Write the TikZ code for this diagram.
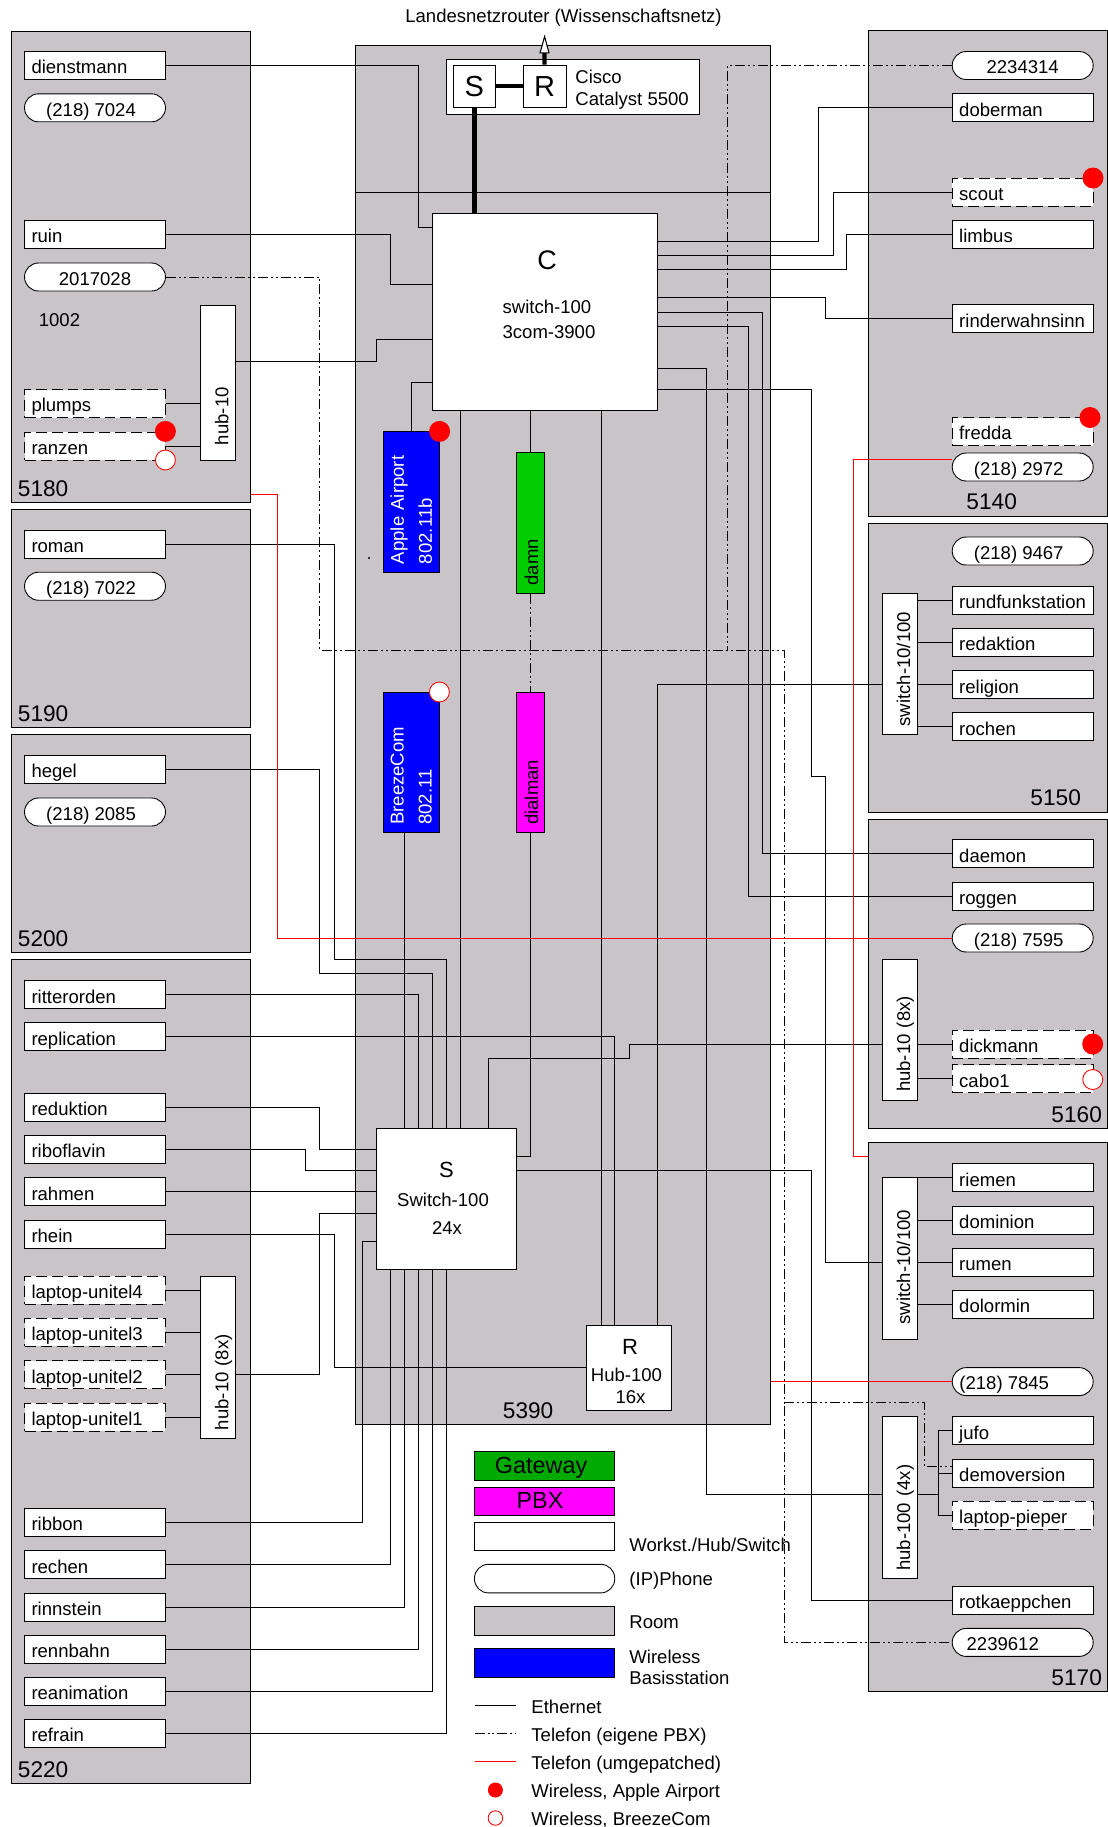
\documentclass[tikz,border=0pt]{standalone}
\usepackage{fontspec}
\setmainfont{Liberation Sans}
\usepackage{xcolor}
\usetikzlibrary{arrows.meta}
\definecolor{roomgray}{RGB}{200,196,200}
\definecolor{damngreen}{RGB}{0,204,0}
\definecolor{gatewaygreen}{RGB}{0,170,0}
\definecolor{pbxmagenta}{RGB}{255,0,255}
\definecolor{basisblue}{RGB}{0,0,255}

\begin{document}
\begin{tikzpicture}[
    x=0.02cm, y=-0.02cm,
    line width=0.5pt,
    room/.style={
      draw, fill=roomgray, anchor=north west, inner sep=0pt
    },
    roomlabel/.style={
      anchor=west, inner sep=0pt, font=\fontsize{12.9}{15}\selectfont
    },
    workst/.style={
      draw, fill=white, text width=2.54cm, inner xsep=0.14cm, inner ysep=0pt,
      minimum height=0.56cm, text height=11pt, text depth=1.5pt,
      align=left, font=\fontsize{10.55}{13}\selectfont
    },
    laptop/.style={
      workst, draw=black, dash pattern=on 0.22cm off 0.1cm
    },
    phone/.style={
      draw, fill=white, rounded corners=0.28cm, inner sep=0pt,
      minimum width=2.82cm, minimum height=0.56cm,
      text height=11pt, text depth=1.5pt,
      font=\fontsize{10.55}{13}\selectfont
    },
    hubbox/.style={
      draw, fill=white, rotate=90, text width=#1, inner xsep=0.16cm, inner ysep=0pt,
      minimum height=0.7cm, text height=12pt, text depth=0pt,
      align=left, font=\fontsize{10.55}{13}\selectfont
    },
    gwbox/.style={
      draw, rotate=90, text width=2.492cm, inner xsep=0.16cm, inner ysep=0pt,
      minimum height=0.56cm, text height=10pt, text depth=1.5pt,
      align=left, font=\fontsize{10.55}{13}\selectfont
    },
    wbase/.style={
      draw, fill=basisblue, text=white, rotate=90, text width=2.492cm,
      inner xsep=0.16cm, inner ysep=0pt, minimum height=1.134cm,
      align=left, font=\fontsize{10.55}{16}\selectfont
    },
    corebox/.style={
      draw, fill=white, inner sep=0pt
    },
    plain/.style={
      inner sep=0pt, font=\fontsize{10.55}{12.3}\selectfont
    },
    bigletter/.style={
      inner sep=0pt, font=\fontsize{12.5}{15}\selectfont
    },
    airport/.style={
      circle, fill=red, inner sep=0pt, minimum size=0.42cm
    },
    breeze/.style={
      circle, draw=red, fill=white, inner sep=0pt, minimum size=0.4cm
    },
    legbox/.style={
      draw, inner sep=0pt, minimum width=2.806cm, minimum height=0.572cm,
      font=\fontsize{13.3}{15}\selectfont
    },
    legtext/.style={
      anchor=west, inner sep=0pt, align=left, font=\fontsize{10.55}{12.3}\selectfont
    },
    eth/.style={line width=0.5pt},
    pbx/.style={line width=0.5pt, dash pattern=on 0.2cm off 0.06cm on 0.04cm off 0.06cm on 0.04cm off 0.06cm},
    patched/.style={line width=0.5pt, red},
    backbone/.style={line width=2.4pt}
  ]
    \useasboundingbox (0,0) rectangle (1108,1827);

    % Rooms
    \node[room, minimum width=4.78cm, minimum height=9.43cm] (r5180) at (10.7,30.5) {};
    \node[room, minimum width=4.78cm, minimum height=4.354cm] (r5190) at (10.7,509.3) {};
    \node[room, minimum width=4.78cm, minimum height=4.36cm] (r5200) at (10.7,734) {};
    \node[room, minimum width=4.78cm, minimum height=16.468cm] (r5220) at (10.7,959.3) {};
    \node[room, minimum width=8.316cm, minimum height=27.586cm] (r5390) at (354.6,44.7) {};
    \node[room, minimum width=4.784cm, minimum height=9.72cm] (r5140) at (867.8,30.4) {};
    \node[room, minimum width=4.784cm, minimum height=5.776cm] (r5150) at (867.8,523) {};
    \node[room, minimum width=4.784cm, minimum height=6.19cm] (r5160) at (867.8,818.5) {};
    \node[room, minimum width=4.784cm, minimum height=10.98cm] (r5170) at (867.8,1142) {};

    % Room numbers
    \node[roomlabel] (l5180) at (17.5,488.2) {5180};
    \node[roomlabel] (l5190) at (17.5,713.2) {5190};
    \node[roomlabel] (l5200) at (17.5,938.2) {5200};
    \node[roomlabel] (l5220) at (17.5,1769.2) {5220};
    \node[roomlabel] (l5390) at (502.5,1410.2) {5390};
    \node[roomlabel] (l5140) at (966,501.8) {5140};
    \node[roomlabel] (l5150) at (1030,798) {5150};
    \node[roomlabel] (l5160) at (1051,1114.2) {5160};
    \node[roomlabel] (l5170) at (1051,1677.2) {5170};

    % Router on top
    \node[plain] (landes) at (563.5,17.6) {Landesnetzrouter (Wissenschaftsnetz)};
    \node[corebox, minimum width=5.06cm, minimum height=1.114cm] (cisco) at (573,86.9) {};
    \node[corebox, minimum width=0.854cm, minimum height=0.85cm, font=\fontsize{16.5}{18}\selectfont] (ciscoS) at (474.4,86.3) {S};
    \node[corebox, minimum width=0.86cm, minimum height=0.85cm, font=\fontsize{16.5}{18}\selectfont] (ciscoR) at (544.5,86.3) {R};
    \node[plain, anchor=west, align=left] (ciscoText) at (575,89.5) {Cisco\\Catalyst 5500};

    % Core
    \node[corebox, minimum width=4.49cm, minimum height=3.938cm] (switchC) at (544.75,312) {};
    \node[inner sep=0pt, font=\fontsize{15.3}{18}\selectfont] (letterC) at (547,260) {C};
    \node[plain] (typeC) at (547,306.5) {switch-100};
    \node[plain] (modelC) at (549,332) {3com-3900};
    \node[corebox, minimum width=2.808cm, minimum height=2.814cm] (switchS) at (446.2,1198.6) {};
    \node[bigletter] (letterS) at (446.4,1170) {S};
    \node[plain] (typeS) at (443,1200) {Switch-100};
    \node[plain] (modelS) at (447,1228) {24x};
    \node[corebox, minimum width=1.694cm, minimum height=1.694cm] (hubR) at (629,1367.6) {};
    \node[bigletter] (letterR) at (630,1346.7) {R};
    \node[plain] (typeR) at (626.5,1375) {Hub-100};
    \node[plain] (modelR) at (630.5,1397.4) {16x};

    % Wireless base stations, gateway, PBX
    \node[wbase] (appleAirport) at (411.3,501.7) {Apple Airport\\802.11b};
    \node[wbase] (breezeCom) at (411.3,762.5) {BreezeCom\\802.11};
    \node[gwbox, fill=damngreen, text width=2.496cm] (damn) at (530.6,523) {damn};
    \node[gwbox, fill=pbxmagenta] (dialman) at (530.6,762.5) {dialman};
    \node[airport] (dotApple) at (439.6,431.4) {};
    \node[breeze] (dotBreeze) at (439.4,692) {};
    \node[circle, fill=black, inner sep=0pt, minimum size=1.2pt] (speck) at (369,558) {};

    % Room 5180
    \node[workst] (dienstmann) at (95,65.4) {dienstmann};
    \node[phone] (phone7024) at (95,107.8) {(218) 7024\kern4.5pt};
    \node[workst] (ruin) at (95,234.5) {ruin};
    \node[phone] (phone2017) at (95,277) {2017028};
    \node[plain] (num1002) at (59.5,320.5) {1002};
    \node[laptop] (plumps) at (95,403.5) {plumps};
    \node[laptop] (ranzen) at (95,446) {ranzen};
    \node[hubbox=2.78cm] (hub5180) at (217.9,382.5) {\hspace*{0.14cm}hub-10};
    \node[airport] (dotRanzen) at (165.4,431.4) {};
    \node[breeze] (breezeRanzen) at (165.4,460) {};

    % Room 5190
    \node[workst] (roman) at (95,544) {roman};
    \node[phone] (phone7022) at (95,586.2) {(218) 7022\kern4.5pt};

    % Room 5200
    \node[workst] (hegel) at (95,769.3) {hegel};
    \node[phone] (phone2085) at (95,812) {(218) 2085\kern4.5pt};

    % Room 5220
    \node[workst] (ritterorden) at (95,994.7) {ritterorden};
    \node[workst] (replication) at (95,1036.7) {replication};
    \node[workst] (reduktion) at (95,1107.3) {reduktion};
    \node[workst] (riboflavin) at (95,1149.3) {riboflavin};
    \node[workst] (rahmen) at (95,1191.7) {rahmen};
    \node[workst] (rhein) at (95,1234) {rhein};
    \node[laptop] (unitelD) at (95,1290.3) {laptop-unitel4};
    \node[laptop] (unitelC) at (95,1332.3) {laptop-unitel3};
    \node[laptop] (unitelB) at (95,1374.7) {laptop-unitel2};
    \node[laptop] (unitelA) at (95,1417) {laptop-unitel1};
    \node[hubbox=2.914cm] (hub5220) at (217.9,1357.2) {hub-10 (8x)};
    \node[workst] (ribbon) at (95,1522.3) {ribbon};
    \node[workst] (rechen) at (95,1564.7) {rechen};
    \node[workst] (rinnstein) at (95,1607) {rinnstein};
    \node[workst] (rennbahn) at (95,1649) {rennbahn};
    \node[workst] (reanimation) at (95,1691.3) {reanimation};
    \node[workst] (refrain) at (95,1733) {refrain};

    % Room 5140
    \node[phone] (phone2234) at (1022.7,65.5) {2234314};
    \node[workst] (doberman) at (1022.7,107.8) {doberman};
    \node[laptop] (scout) at (1022.7,192.2) {scout};
    \node[workst] (limbus) at (1022.7,234.5) {limbus};
    \node[workst] (rinderwahnsinn) at (1022.7,318.7) {rinderwahnsinn};
    \node[laptop] (fredda) at (1022.7,431.5) {fredda};
    \node[phone] (phone2972) at (1022.7,467) {(218) 2972\kern4.5pt};
    \node[airport] (dotScout) at (1093,178) {};
    \node[airport] (dotFredda) at (1090,417.5) {};

    % Room 5150
    \node[phone] (phone9467) at (1022.7,551) {(218) 9467\kern4.5pt};
    \node[workst] (rundfunkstation) at (1022.7,600.3) {rundfunkstation};
    \node[workst] (redaktion) at (1022.7,642.6) {redaktion};
    \node[workst] (religion) at (1022.7,684.9) {religion};
    \node[workst] (rochen) at (1022.7,726.8) {rochen};
    \node[hubbox=2.496cm] (switch5150) at (899.6,663.9) {switch-10/100};

    % Room 5160
    \node[workst] (daemon) at (1022.7,853.7) {daemon};
    \node[workst] (roggen) at (1022.7,896) {roggen};
    \node[phone] (phone7595) at (1022.7,938) {(218) 7595\kern4.5pt};
    \node[hubbox=2.494cm] (hub5160) at (899.6,1029.6) {hub-10 (8x)};
    \node[laptop] (dickmann) at (1022.7,1044) {dickmann};
    \node[laptop] (cabo) at (1022.7,1078.7) {cabo1};
    \node[airport] (dotDickmann) at (1092.7,1044) {};
    \node[breeze] (dotCabo) at (1092.7,1079.5) {};

    % Room 5170
    \node[workst] (riemen) at (1022.7,1177.7) {riemen};
    \node[workst] (dominion) at (1022.7,1220) {dominion};
    \node[workst] (rumen) at (1022.7,1262) {rumen};
    \node[workst] (dolormin) at (1022.7,1304) {dolormin};
    \node[hubbox=2.92cm] (switch5170) at (899.6,1258.4) {\hspace*{0.14cm}switch-10/100};
    \node[phone] (phone7845) at (1022.7,1381.6) {(218) 7845\kern21pt};
    \node[hubbox=2.92cm] (hub5170) at (899.6,1497.8) {hub-100 (4x)};
    \node[workst] (jufo) at (1022.7,1430.8) {jufo};
    \node[workst] (demoversion) at (1022.7,1473) {demoversion};
    \node[laptop] (laptopPieper) at (1022.7,1515) {laptop-pieper};
    \node[workst] (rotkaeppchen) at (1022.7,1600) {rotkaeppchen};
    \node[phone] (phone2239) at (1022.7,1642.4) {2239612\kern22.7pt};

    % Uplink and backbone
    \coordinate (uplink) at (544.6,34.4);
    \draw[backbone, -{Triangle[open, fill=white, length=0.38cm, width=0.2cm, line width=0.6pt]}] (ciscoR.north) -- (uplink);
    \draw[backbone] (ciscoS.east) -- (ciscoR.west);
    \draw[backbone] (474.6,0 |- ciscoS.south) -- (474.6,0 |- switchC.north);
    \draw[eth] (r5390.west |- 0,192) -- (r5390.east |- 0,192);

    % Ethernet: left rooms to C and S
    \draw[eth] (dienstmann.east) -| (418,227.4) -- (switchC.west |- 0,227.4);
    \draw[eth] (ruin.east) -| (390,284) -- (switchC.west |- 0,284);
    \draw[eth] (hub5180.south |- 0,361) -| (376,339.7) -- (switchC.west |- 0,339.7);
    \draw[eth] (plumps.east) -- (plumps.east -| hub5180.north);
    \draw[eth] (ranzen.east) -- (ranzen.east -| hub5180.north);
    \draw[eth] (roman.east) -| (334,959.3) -| (446.4,0 |- switchS.north);
    \draw[eth] (hegel.east) -| (319.6,973.6) -| (432.5,0 |- switchS.north);
    \draw[eth] (ritterorden.east) -| (418,0 |- switchS.north);
    \draw[eth] (replication.east) -| (614.8,0 |- hubR.north);
    \draw[eth] (reduktion.east) -| (319.6,1149.3) -- (switchS.west |- 0,1149.3);
    \draw[eth] (riboflavin.east) -| (305.7,1170.3) -- (switchS.west |- 0,1170.3);
    \draw[eth] (rahmen.east) -- (switchS.west |- rahmen);
    \draw[eth] (hub5220.south |- unitelB) -| (319.6,1213) -- (switchS.west |- 0,1213);
    \draw[eth] (rhein.east) -| (334,1367.3) -- (hubR.west |- 0,1367.3);
    \draw[eth] (unitelD.east) -- (unitelD.east -| hub5220.north);
    \draw[eth] (unitelC.east) -- (unitelC.east -| hub5220.north);
    \draw[eth] (unitelB.east) -- (unitelB.east -| hub5220.north);
    \draw[eth] (unitelA.east) -- (unitelA.east -| hub5220.north);

    % Ethernet: S to the lower machines
    \draw[eth] (ribbon.east) -| (362,1241) -- (switchS.west |- 0,1241);
    \draw[eth] (rechen.east) -| (390,0 |- switchS.south);
    \draw[eth] (rinnstein.east) -| (404.3,0 |- switchS.south);
    \draw[eth] (rennbahn.east) -| (418,0 |- switchS.south);
    \draw[eth] (reanimation.east) -| (432.5,0 |- switchS.south);
    \draw[eth] (refrain.east) -| (446.4,0 |- switchS.south);

    % Ethernet: C and S to base stations, gateway, PBX, R
    \draw[eth] (appleAirport.east) |- (switchC.west |- 0,382.4);
    \draw[eth] (damn.east |- switchC.south) -- (damn.east);
    \draw[eth] (460.4,0 |- switchC.south) -- (460.4,0 |- switchS.north);
    \draw[eth] (601,0 |- switchC.south) -- (601,0 |- hubR.north);
    \draw[eth] (404.3,0 |- breezeCom.west) -- (404.3,0 |- switchS.north);
    \draw[eth] (dialman.west) |- (switchS.east |- 0,1156);
    \draw[eth] (657,0 |- hubR.north) |- (switch5150.north |- religion);

    % Ethernet: C and S to right rooms
    \draw[eth] (switchC.east |- 0,241.2) -| (818.7,107.8) -- (doberman.west);
    \draw[eth] (switchC.east |- 0,255.4) -| (833,192.2) -- (scout.west);
    \draw[eth] (switchC.east |- 0,269.7) -| (846.8,234.5) -- (limbus.west);
    \draw[eth] (switchC.east |- 0,297.7) -| (825.8,318.7) -- (rinderwahnsinn.west);
    \draw[eth] (switchC.east |- 0,312) -| (762.7,853.7) -- (daemon.west);
    \draw[eth] (switchC.east |- 0,326.2) -| (748.6,896) -- (roggen.west);
    \draw[eth] (switchC.east |- 0,368) -| (706.2,1494.4) -- (hub5170.north |- 0,1494.4);
    \draw[eth] (switchC.east |- 0,389.5) -| (811.7,776) -| (825.9,1262) -- (switch5170.north |- 0,1262);
    \draw[eth] (switchS.east |- 0,1170.5) -| (811.7,1600) -- (rotkaeppchen.west);
    \draw[eth] (hub5160.north |- dickmann) -| (629,1058) -| (488.2,0 |- switchS.north);

    % Ethernet: inside right rooms
    \draw[eth] (rundfunkstation.west) -- (rundfunkstation.west -| switch5150.south);
    \draw[eth] (redaktion.west) -- (redaktion.west -| switch5150.south);
    \draw[eth] (religion.west) -- (religion.west -| switch5150.south);
    \draw[eth] (rochen.west) -- (rochen.west -| switch5150.south);
    \draw[eth] (dickmann.west) -- (dickmann.west -| hub5160.south);
    \draw[eth] (cabo.west) -- (cabo.west -| hub5160.south);
    \draw[eth] (riemen.west) -- (riemen.west -| switch5170.south);
    \draw[eth] (dominion.west) -- (dominion.west -| switch5170.south);
    \draw[eth] (rumen.west) -- (rumen.west -| switch5170.south);
    \draw[eth] (dolormin.west) -- (dolormin.west -| switch5170.south);
    \draw[eth] (hub5170.south |- 0,1494.4) -- (938.3,1494.4);
    \draw[eth] (jufo.west) -| (938.3,1515) -- (laptopPieper.west);
    \draw[eth] (demoversion.west) -- (938.3,0 |- demoversion);

    % Telefon (eigene PBX)
    \draw[pbx] (phone2017.east) -| (319.6,650) -- (784,650) |- (phone2239.west);
    \draw[pbx] (phone2234.west) -| (727.3,650);
    \draw[pbx] (784,1402.7) -| (924.4,1466.3) -- (demoversion.west |- 0,1466.3);
    \draw[pbx] (damn.west) -- (dialman.east);

    % Telefon (umgepatched)
    \draw[patched] (r5180.east |- 0,494.7) -| (277.5,938) -- (phone7595.west);
    \draw[patched] (phone2972.west |- 0,459.9) -| (853.6,1156.3) -- (r5170.west |- 0,1156.3);
    \draw[patched] (r5390.east |- phone7845) -- (phone7845.west);

    % Legend
    \node[legbox, fill=gatewaygreen, text height=11pt, text depth=2.6pt] (legGateway) at (544.6,1466) {Gateway\kern4pt};
    \node[legbox, fill=pbxmagenta, text height=11pt, text depth=2.6pt] (legPBX) at (544.6,1501.3) {PBX\kern5.2pt};
    \node[legbox, fill=white] (legHost) at (544.6,1536.6) {};
    \node[legbox, fill=white, rounded corners=0.28cm] (legPhone) at (544.6,1578.6) {};
    \node[legbox, fill=roomgray] (legRoom) at (544.6,1621.2) {};
    \node[legbox, fill=basisblue] (legBase) at (544.6,1663.2) {};
    \node[legtext] (txtHost) at (629,1545) {Workst./Hub/Switch};
    \node[legtext] (txtPhone) at (629,1581) {(IP)Phone};
    \node[legtext] (txtRoom) at (629,1622) {Room};
    \node[legtext, font=\fontsize{10.55}{12}\selectfont] (txtBase) at (629,1667) {Wireless\\Basisstation};
    \coordinate (ethL) at (474.5,1705.3);
    \coordinate (ethR) at (516.3,1705.3);
    \coordinate (pbxL) at (474.5,1733.3);
    \coordinate (pbxR) at (516.3,1733.3);
    \coordinate (redL) at (474.5,1761.7);
    \coordinate (redR) at (516.3,1761.7);
    \draw[eth] (ethL) -- (ethR);
    \draw[pbx] (pbxL) -- (pbxR);
    \draw[patched] (redL) -- (redR);
    \node[circle, fill=red, inner sep=0pt, minimum size=0.3cm] (legAirport) at (495.4,1790) {};
    \node[circle, draw=red, fill=white, inner sep=0pt, minimum size=0.29cm] (legBreeze) at (495.4,1818) {};
    \node[legtext] (txtEth) at (531,1706.7) {Ethernet};
    \node[legtext] (txtPbx) at (531,1736.7) {Telefon (eigene PBX)};
    \node[legtext] (txtRed) at (531,1764.7) {Telefon (umgepatched)};
    \node[legtext] (txtAirport) at (531,1792.5) {Wireless, Apple Airport};
    \node[legtext] (txtBreeze) at (531,1819.7) {Wireless, BreezeCom};

  \end{tikzpicture}
\end{document}
